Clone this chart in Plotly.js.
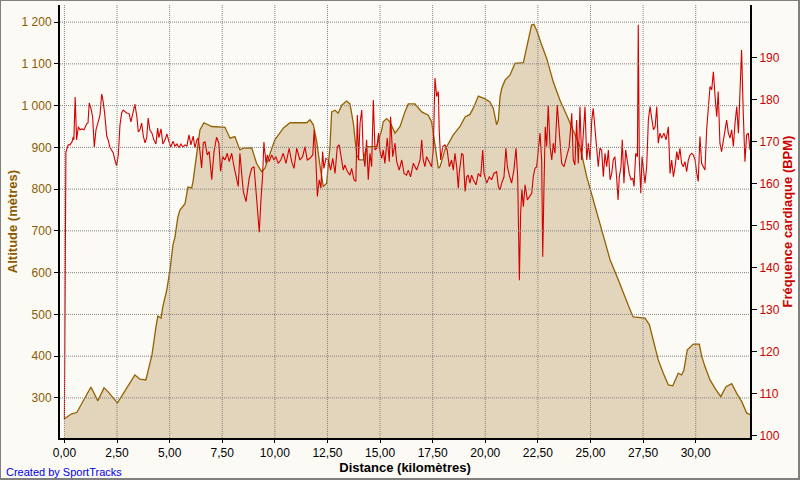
<!DOCTYPE html>
<html>
<head>
<meta charset="utf-8">
<script src="https://cdn.plot.ly/plotly-3.0.1.min.js"></script>
<style>
html,body{margin:0;padding:0;background:#FBFAF5;}
#wrap{position:relative;width:800px;height:480px;}
#chart{width:800px;height:480px;}
#frame{position:absolute;left:0;top:0;width:800px;height:480px;box-sizing:border-box;
border-top:1px solid #808080;border-left:1px solid #808080;border-right:2px solid #808080;border-bottom:2px solid #808080;pointer-events:none;}
</style>
</head>
<body>
<div id="wrap"><div id="chart"></div><div id="frame"></div></div>
<script>
// Altitude profile (km, metres)
const altDistance = [0.00,0.34,0.59,1.26,1.59,1.88,2.07,2.52,3.35,3.59,3.87,4.16,4.35,4.44,4.59,4.68,4.87,5.02,5.16,5.25,5.39,5.49,5.73,5.87,6.05,6.12,6.28,6.44,6.63,7.00,7.63,7.87,8.10,8.34,8.50,8.90,9.13,9.37,9.53,10.00,10.40,10.72,11.51,11.67,11.83,11.99,12.14,12.30,12.46,12.62,12.70,12.86,13.01,13.18,13.41,13.57,13.73,13.89,14.01,14.20,14.36,14.84,15.08,15.15,15.31,15.47,15.71,15.95,16.18,16.34,16.66,16.98,17.29,17.45,17.61,17.77,17.85,18.08,18.48,18.80,19.04,19.27,19.43,19.67,19.99,20.22,20.38,20.46,20.54,20.62,20.70,20.78,20.94,21.17,21.41,21.81,21.97,22.20,22.31,22.47,22.68,22.92,23.23,23.55,23.87,24.18,24.50,24.82,25.13,25.53,25.93,26.32,26.56,26.88,27.03,27.27,27.59,27.80,27.98,28.22,28.46,28.70,28.91,29.17,29.33,29.44,29.60,29.89,30.17,30.29,30.44,30.68,30.92,31.19,31.44,31.71,31.95,32.19,32.42,32.58];
const altitude = [250,262,265,326,293,324,315,288,355,345,343,403,470,496,491,519,560,608,667,684,733,750,765,805,803,821,882,942,959,950,948,922,926,894,898,899,862,842,850,918,946,959,959,966,954,914,858,806,814,902,985,989,982,1001,1011,1004,958,882,870,870,902,902,942,961,969,961,934,950,985,1004,1004,985,977,961,906,850,854,894,930,950,973,979,994,1023,1016,1009,994,973,954,966,1021,1041,1061,1073,1101,1103,1137,1193,1195,1177,1145,1113,1057,1013,977,942,902,830,774,706,631,583,551,511,494,493,491,475,439,391,359,331,329,359,355,367,415,429,429,399,375,343,323,303,327,334,311,291,264,260];

// Heart rate (km, BPM)
const hrDistance = [0.00,0.07,0.18,0.26,0.36,0.42,0.45,0.51,0.58,0.66,0.74,0.83,0.93,1.06,1.12,1.18,1.26,1.34,1.42,1.50,1.58,1.69,1.77,1.83,1.91,2.01,2.08,2.16,2.24,2.32,2.40,2.48,2.56,2.64,2.72,2.79,2.96,3.08,3.16,3.26,3.35,3.45,3.51,3.59,3.67,3.75,3.83,3.91,3.98,4.06,4.16,4.25,4.35,4.43,4.49,4.59,4.68,4.78,4.87,4.97,5.06,5.16,5.25,5.35,5.44,5.54,5.63,5.73,5.82,5.92,6.01,6.12,6.20,6.30,6.36,6.44,6.52,6.60,6.68,6.79,6.88,7.00,7.11,7.23,7.34,7.42,7.52,7.63,7.74,7.83,7.95,8.06,8.15,8.26,8.34,8.42,8.50,8.63,8.69,8.78,8.90,9.01,9.10,9.21,9.26,9.34,9.42,9.48,9.58,9.64,9.73,9.85,9.96,10.05,10.16,10.28,10.40,10.53,10.68,10.80,10.91,11.04,11.19,11.32,11.43,11.54,11.67,11.80,11.87,11.95,12.02,12.11,12.19,12.27,12.33,12.43,12.54,12.65,12.75,12.86,12.97,13.06,13.13,13.25,13.33,13.44,13.57,13.65,13.76,13.85,13.92,13.98,14.05,14.13,14.20,14.28,14.36,14.44,14.52,14.60,14.68,14.76,14.84,14.93,15.00,15.08,15.15,15.23,15.34,15.44,15.50,15.60,15.71,15.79,15.91,16.03,16.14,16.26,16.34,16.45,16.58,16.74,16.90,16.98,17.05,17.13,17.21,17.34,17.45,17.53,17.61,17.69,17.77,17.81,17.88,17.98,18.08,18.19,18.29,18.40,18.48,18.56,18.64,18.72,18.76,18.88,18.95,19.04,19.12,19.19,19.27,19.35,19.43,19.56,19.67,19.78,19.88,19.94,20.07,20.19,20.30,20.41,20.54,20.62,20.70,20.78,20.89,20.98,21.05,21.14,21.25,21.36,21.46,21.54,21.62,21.68,21.74,21.81,21.89,22.00,22.09,22.21,22.28,22.36,22.44,22.52,22.60,22.68,22.73,22.79,22.85,22.92,22.99,23.08,23.16,23.23,23.31,23.42,23.52,23.63,23.74,23.87,23.99,24.11,24.18,24.26,24.34,24.42,24.50,24.58,24.66,24.74,24.82,24.90,24.98,25.06,25.13,25.21,25.29,25.37,25.45,25.53,25.61,25.69,25.77,25.85,25.93,26.01,26.08,26.16,26.24,26.31,26.37,26.45,26.51,26.59,26.67,26.75,26.84,26.93,27.01,27.07,27.15,27.23,27.27,27.32,27.39,27.45,27.51,27.59,27.67,27.75,27.83,27.91,27.99,28.07,28.15,28.22,28.30,28.38,28.49,28.59,28.70,28.78,28.86,28.94,29.02,29.10,29.17,29.25,29.33,29.41,29.49,29.57,29.65,29.73,29.81,29.89,29.97,30.05,30.12,30.20,30.28,30.36,30.44,30.52,30.60,30.68,30.76,30.84,30.92,31.00,31.07,31.15,31.23,31.31,31.39,31.47,31.55,31.63,31.71,31.79,31.87,31.95,32.03,32.10,32.18,32.26,32.34,32.42,32.50,32.58];
const heartRate = [104,167.6,169.3,169.3,170,171.2,170.5,180.7,170.5,173.6,172.9,173.1,172.9,174.3,174.5,179.3,178,176,168.8,172.9,174.3,176.4,181.4,180,176.9,171.4,170.5,168.8,168.1,167.4,165.7,164.3,166.9,174,176.9,177.6,176.9,176.7,174.8,176.7,179,175.7,172.4,172.9,174.5,171.4,169.8,171,175.7,172.9,172.1,170.5,169.5,173.3,171,173.1,169.5,170.5,171.9,170,168.8,170.2,169,169.5,168.6,169.5,168.8,169.3,169,171.7,169.3,171.4,168.6,170.5,170.9,167.7,163.8,169.8,170,166.9,167.7,161,167.7,171.1,169.7,163,166.5,165.7,167.3,165.3,167.3,164.1,162.1,159.4,167.3,162.5,158.2,155.8,157.8,161.4,163.7,164.1,158.6,152.2,148.5,156.2,162.1,170,164.9,166.9,165.3,166.9,165.7,166.5,164.9,165.7,167.3,164.9,168.5,165.3,163.7,168.5,165.7,166.5,168.9,165.7,166.1,166.9,172.9,165.7,157,161,159,167.7,163.7,166.1,165.7,163.3,166.1,162.5,168.9,169.3,166.9,163.3,164.5,163,162.1,163.7,161,160.6,176.4,165.7,174.5,177.6,167.3,164.1,170.5,161,167.3,164.1,180,168.1,168.5,172.1,167.7,166.1,168.1,164.9,170.9,165.3,176,166.5,169.7,165.3,163.3,165.7,162.5,162.1,163.3,161.7,164.9,163.3,165.7,170.5,165.7,164.1,166.5,165.3,164.1,168.5,185.2,180.8,182,172.9,165.7,168.9,169.3,168.1,164.1,165.7,163.3,167.3,164.1,159,162.5,167.3,166.9,158.2,161.7,162.1,160.2,162.1,161,159.8,162.5,161.7,168.1,162.5,160.2,161.7,161,162.5,162.9,159.4,158.6,160.2,161.7,168.5,164.1,162.1,160.2,163.3,168.5,161.7,137.1,153,158.6,154.6,159.8,156.2,157,157.8,161.7,163.7,164.1,168.9,172.1,165.7,142.7,159.4,173.6,168.9,178.8,168.9,165.7,169.7,167.3,178.8,172.9,164.9,164.1,166.5,168.9,176.8,165.7,164.5,175.2,164.9,178.4,165.7,172.9,178.4,165.7,169.7,165.7,175.2,178,172.9,169.7,164.1,168.5,168.1,161.7,167.3,164.1,168.1,161,162.5,165.7,166.5,161.7,156.2,161.7,164.1,170.5,160.2,168.1,164.9,162.5,161,161.4,159.4,167.3,166.5,197.9,165.7,157.8,166.5,164.1,160.2,164.1,175.2,178.4,176,172.9,173.6,178.4,169.7,172.1,170.9,172.1,170.5,173.6,162.5,165.7,161.7,164.1,167.7,165.7,168.5,164.9,164.1,165.3,162.9,165.7,166.9,167.3,166.9,165.7,162.5,160.6,171.3,164.9,164.1,163.3,172.9,178.8,183.2,182.4,186.7,180.8,176,182,169.7,167.7,170.5,172.9,175.2,172.1,170.9,172.9,168.9,174.5,178.4,172.1,183.2,191.9,176.8,165.3,171.7,172.1,168.1];

// Axis ticks
const xTicks = [0,2.5,5,7.5,10,12.5,15,17.5,20,22.5,25,27.5,30];
const altTicks = [300,400,500,600,700,800,900,1000,1100,1200];
const hrTicks = [100,110,120,130,140,150,160,170,180,190];

const BROWN = '#8B5A00';
const RED = '#CC0000';
const tickFont = 'Liberation Sans Narrow, Liberation Sans, Arial, sans-serif';
const titleFont = 'Liberation Sans, Arial, sans-serif';

const gridShapes = [];
xTicks.forEach(v => gridShapes.push({type:'line', layer:'above', xref:'x', yref:'paper', x0:v, x1:v, y0:0, y1:1,
  line:{color:'#808080', width:1, dash:'1px,1px'}}));
altTicks.forEach(v => gridShapes.push({type:'line', layer:'above', xref:'paper', yref:'y', x0:0, x1:1, y0:v, y1:v,
  line:{color:'#808080', width:1, dash:'1px,1px'}}));

const traces = [
  {x: altDistance, y: altitude, type:'scatter', mode:'lines', fill:'tozeroy',
   fillcolor:'#E3D4BC', line:{color:'#936200', width:1.3}, yaxis:'y', hoverinfo:'skip'},
  {x: hrDistance, y: heartRate, type:'scatter', mode:'lines',
   line:{color:'#D40000', width:1.1}, yaxis:'y2', hoverinfo:'skip'}
];

const layout = {
  width:800, height:480,
  margin:{l:60, r:50, t:5, b:42},
  paper_bgcolor:'#FBFAF5', plot_bgcolor:'#FBFAF5',
  separators:', ',
  showlegend:false,
  xaxis:{range:[-0.21,32.58], tickvals:xTicks, tickformat:'.2f', showgrid:false, zeroline:false,
    showline:true, linecolor:'#000', linewidth:2, ticks:'outside', ticklen:3, tickcolor:'#000',
    tickfont:{family:tickFont, size:12, color:'#000'},
    title:{text:'<b>Distance (kilomètres)</b>', font:{family:titleFont, size:13, color:'#000'}, standoff:2}},
  yaxis:{range:[204,1241], tickvals:altTicks, tickformat:',d', showgrid:false, zeroline:false,
    showline:true, linecolor:'#000', linewidth:2, ticks:'outside', ticklen:4, tickcolor:'#000',
    tickfont:{family:tickFont, size:12, color:BROWN},
    title:{text:'<b>Altitude (mètres)</b>', font:{family:titleFont, size:13, color:BROWN}, standoff:1}},
  yaxis2:{range:[99.52,202.6], tickvals:hrTicks, overlaying:'y', side:'right', showgrid:false, zeroline:false,
    showline:true, linecolor:'#000', linewidth:2, ticks:'outside', ticklen:5, tickcolor:'#000',
    tickfont:{family:tickFont, size:12, color:RED},
    title:{text:'<b>Fréquence cardiaque (BPM)</b>', font:{family:titleFont, size:13, color:RED}, standoff:2}},
  shapes: gridShapes,
  annotations:[{text:'Created by SportTracks', xref:'paper', yref:'paper', x:-0.0812, y:-0.078,
    xanchor:'left', yanchor:'middle', showarrow:false, font:{family:titleFont, size:11, color:'#0000EE'}}]
};

Plotly.newPlot('chart', traces, layout, {displayModeBar:false, staticPlot:true});
</script>
</body>
</html>
